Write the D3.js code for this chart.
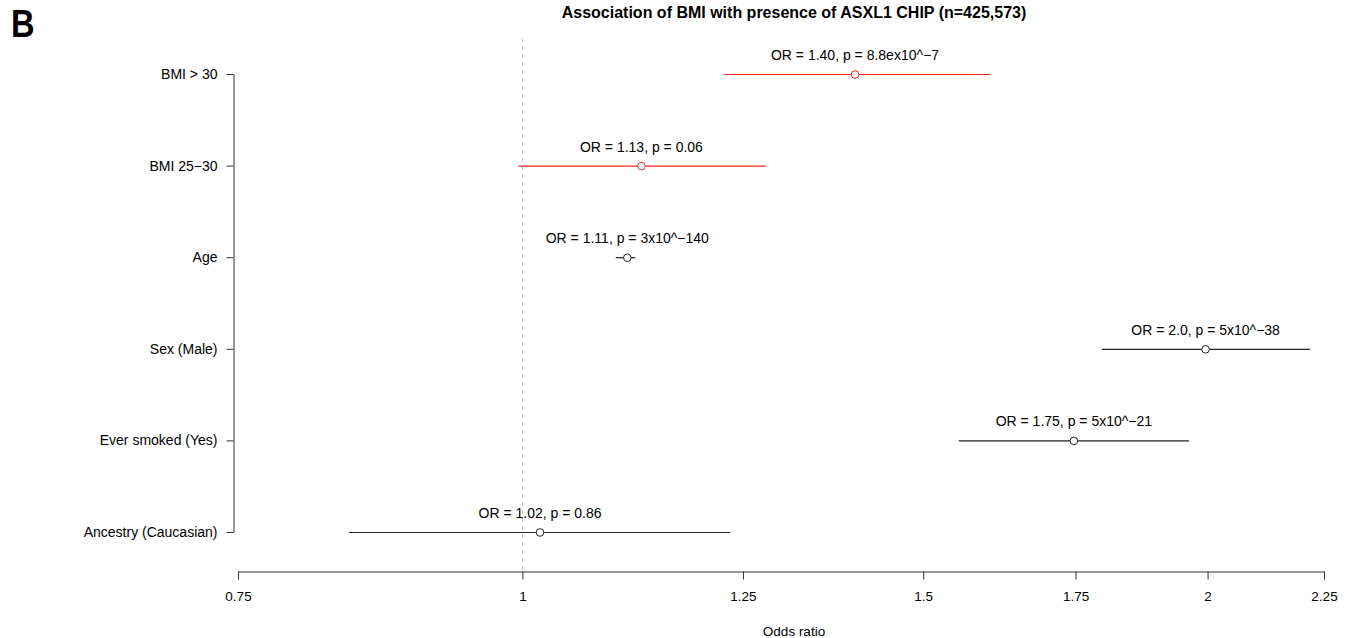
<!DOCTYPE html>
<html><head><meta charset="utf-8">
<script src="https://cdn.jsdelivr.net/npm/d3@7"></script>
<style>body{margin:0;background:#fff}svg{display:block}text{font-family:"Liberation Sans",Arial,sans-serif}</style>
</head><body>
<script>
const categories = ["BMI > 30","BMI 25−30","Age","Sex (Male)","Ever smoked (Yes)","Ancestry (Caucasian)"];
const oddsRatio = [1.40, 1.128, 1.112, 1.996, 1.747, 1.018];
const lowerCI  = [1.226, 0.996, 1.099, 1.797, 1.555, 0.839];
const upperCI  = [1.606, 1.279, 1.121, 2.218, 1.963, 1.234];
const annotations = ["OR = 1.40, p = 8.8ex10^−7","OR = 1.13, p = 0.06","OR = 1.11, p = 3x10^−140","OR = 2.0, p = 5x10^−38","OR = 1.75, p = 5x10^−21","OR = 1.02, p = 0.86"];
const highlight = [true, true, false, false, false, false];
const xTicks = [0.75, 1, 1.25, 1.5, 1.75, 2, 2.25];
const title = "Association of BMI with presence of ASXL1 CHIP (n=425,573)";

const W = 1348, H = 638;
const svg = d3.select("body").append("svg").attr("width", W).attr("height", H);

const x = d3.scaleLog().domain([0.75, 2.25]).range([238, 1324]);
const y = d3.scalePoint().domain(categories).range([74, 532]);
const axisY = 571.5;

// panel letter
svg.append("text").attr("transform", "translate(11,37) scale(0.86,1)").attr("font-family", "'Open Sans',sans-serif")
  .attr("font-weight", "bold").attr("font-size", 38).text("B");

// title
svg.append("text").attr("x", 794).attr("y", 18).attr("text-anchor", "middle")
  .attr("font-weight", "bold").attr("font-size", 16).text(title);

// reference line
svg.append("line").attr("x1", Math.round(x(1)) + 0.5).attr("x2", Math.round(x(1)) + 0.5)
  .attr("y1", 38).attr("y2", axisY).attr("stroke", "#c8c8c8").attr("stroke-dasharray", "4,4");

// x axis
const xa = svg.append("g").attr("transform", `translate(0,${axisY})`)
  .call(d3.axisBottom(x).tickValues(xTicks).tickFormat(d3.format("")).tickSize(8).tickPadding(12));
xa.select(".domain").attr("stroke", "#333");
xa.selectAll(".tick line").attr("stroke", "#333");
xa.selectAll("text").attr("font-size", 13.5).attr("fill", "#000").attr("font-family", "Liberation Sans, Arial, sans-serif");

// y axis
const ya = svg.append("g").attr("transform", `translate(233.5,0)`)
  .call(d3.axisLeft(y).tickSize(7).tickPadding(9).tickSizeOuter(0));
ya.select(".domain").attr("stroke", "#333");
ya.selectAll(".tick line").attr("stroke", "#333");
ya.selectAll("text").attr("font-size", 14).attr("fill", "#000").attr("font-family", "Liberation Sans, Arial, sans-serif");

// x label
svg.append("text").attr("x", 794).attr("y", 636).attr("text-anchor", "middle").attr("font-size", 13.5).text("Odds ratio");

// forest marks
const rows = categories.map((c, i) => ({c, or: oddsRatio[i], lo: lowerCI[i], hi: upperCI[i], lab: annotations[i], hl: highlight[i]}));
const g = svg.append("g");
g.selectAll("line.ci").data(rows).join("line").attr("class", "ci")
  .attr("x1", d => x(d.lo)).attr("x2", d => x(d.hi))
  .attr("y1", d => y(d.c) + 0.5).attr("y2", d => y(d.c) + 0.5)
  .attr("stroke", d => d.hl ? "#ff2020" : "#222").attr("stroke-width", 1.2);
g.selectAll("circle").data(rows).join("circle")
  .attr("cx", d => x(d.or)).attr("cy", d => y(d.c) + 0.5).attr("r", 3.8)
  .attr("fill", "#fff").attr("stroke", d => d.hl ? "#ff2020" : "#222").attr("stroke-width", 1);
g.selectAll("text.ann").data(rows).join("text").attr("class", "ann")
  .attr("x", d => x(d.or)).attr("y", d => y(d.c) - 14).attr("text-anchor", "middle")
  .attr("font-size", 14).text(d => d.lab);
</script>
</body></html>
